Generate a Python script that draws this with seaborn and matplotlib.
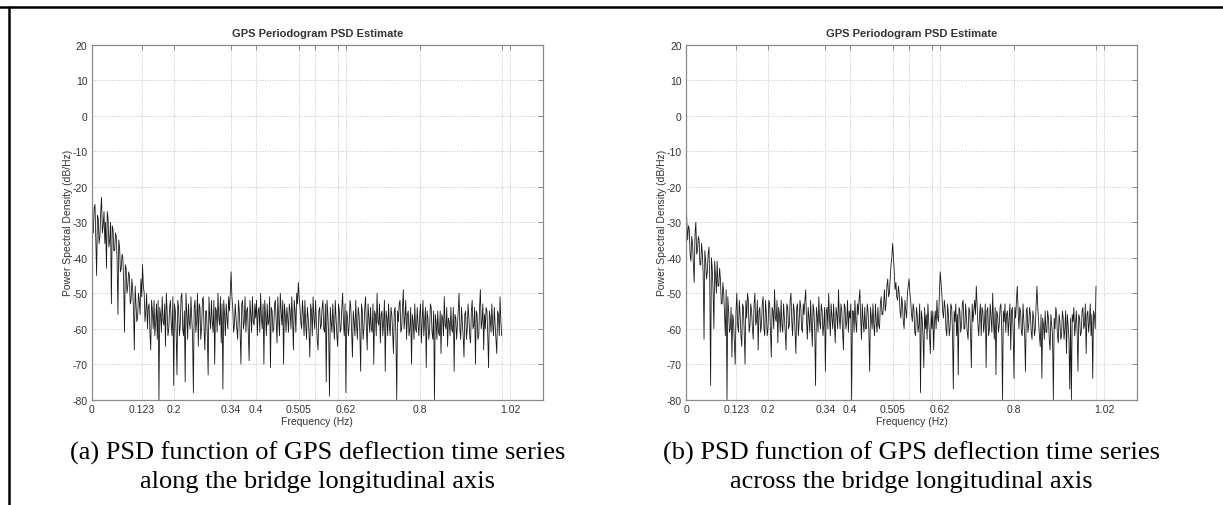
import numpy as np
import pandas as pd
import matplotlib
matplotlib.use("Agg")
import matplotlib.pyplot as plt
from matplotlib.lines import Line2D
import seaborn as sns

# PSD values (dB/Hz), one every 0.002 Hz from 0 to 1.0 Hz
psd_along = [
    -27, -33, -33, -26, -25, -35, -45, -28, -29, -36, -34, -27, -23, -33, -31, -27, -36, -30, -43, -27,
    -29, -37, -35, -30, -53, -31, -32, -38, -38, -33, -34, -41, -56, -35, -37, -44, -43, -39, -40, -47,
    -61, -42, -43, -50, -48, -44, -45, -53, -52, -46, -49, -55, -66, -48, -53, -58, -57, -50, -52, -56,
    -46, -51, -42, -48, -50, -58, -55, -50, -60, -54, -53, -61, -66, -52, -55, -60, -52, -62, -58, -53,
    -63, -52, -80, -54, -56, -61, -51, -58, -59, -53, -65, -50, -55, -62, -60, -54, -52, -59, -62, -51,
    -76, -53, -55, -61, -73, -52, -54, -62, -59, -51, -50, -60, -62, -55, -75, -50, -56, -63, -53, -58,
    -60, -51, -57, -62, -78, -54, -52, -61, -58, -50, -65, -53, -54, -63, -60, -52, -51, -60, -66, -55,
    -55, -62, -73, -51, -57, -60, -52, -58, -61, -52, -70, -54, -55, -61, -50, -57, -59, -51, -64, -53,
    -77, -52, -56, -62, -53, -57, -60, -51, -55, -50, -44, -51, -54, -61, -59, -53, -57, -60, -63, -52,
    -55, -61, -70, -53, -52, -60, -58, -51, -61, -55, -54, -62, -69, -52, -56, -61, -51, -58, -59, -53,
    -57, -52, -62, -55, -54, -61, -50, -57, -60, -53, -70, -52, -56, -62, -53, -59, -58, -51, -71, -54,
    -55, -61, -60, -53, -52, -58, -64, -51, -57, -62, -50, -55, -59, -52, -70, -53, -56, -61, -54, -57,
    -61, -53, -55, -60, -51, -57, -66, -52, -55, -61, -50, -53, -47, -51, -54, -58, -60, -52, -56, -62,
    -52, -59, -63, -54, -57, -61, -68, -53, -55, -62, -51, -57, -60, -52, -58, -63, -66, -55, -54, -60,
    -59, -54, -52, -60, -61, -53, -75, -52, -56, -62, -79, -54, -58, -61, -53, -59, -63, -52, -57, -62,
    -65, -53, -55, -61, -60, -54, -50, -58, -62, -53, -78, -55, -57, -62, -59, -52, -54, -61, -68, -55,
    -58, -62, -52, -59, -63, -54, -56, -61, -72, -53, -55, -63, -60, -54, -51, -60, -66, -53, -57, -61,
    -54, -60, -61, -53, -70, -55, -56, -62, -50, -58, -59, -53, -64, -56, -55, -62, -58, -52, -72, -55,
    -57, -62, -53, -59, -62, -54, -56, -61, -67, -55, -54, -62, -80, -55, -58, -53, -52, -61, -60, -54,
    -49, -60, -57, -52, -63, -56, -55, -62, -60, -54, -70, -56, -58, -63, -53, -60, -61, -54, -59, -62,
    -56, -53, -64, -58, -52, -62, -58, -54, -71, -55, -57, -63, -61, -53, -54, -61, -63, -55, -80, -56,
    -58, -63, -55, -61, -62, -55, -67, -56, -57, -62, -51, -59, -60, -54, -65, -57, -58, -62, -54, -60,
    -61, -54, -72, -56, -57, -63, -59, -55, -50, -60, -63, -54, -58, -62, -68, -56, -55, -63, -60, -53,
    -57, -62, -64, -55, -52, -60, -59, -54, -70, -55, -56, -63, -62, -54, -49, -60, -58, -53, -66, -56,
    -60, -54, -55, -62, -71, -55, -57, -61, -53, -59, -62, -54, -59, -63, -67, -55, -56, -62, -51, -58,
    -62,
]

psd_across = [
    -21, -30, -35, -31, -32, -39, -41, -34, -36, -42, -47, -33, -30, -39, -38, -34, -35, -42, -42, -36,
    -39, -45, -63, -38, -41, -46, -44, -39, -37, -47, -76, -40, -43, -49, -60, -41, -45, -50, -41, -48,
    -48, -43, -46, -53, -53, -47, -50, -56, -62, -49, -80, -51, -55, -61, -60, -54, -68, -56, -58, -64,
    -70, -55, -50, -59, -61, -52, -56, -62, -65, -53, -54, -61, -70, -52, -57, -50, -52, -61, -59, -53,
    -55, -60, -63, -53, -50, -59, -58, -52, -66, -55, -54, -61, -59, -53, -51, -60, -62, -52, -56, -62,
    -60, -52, -53, -61, -68, -54, -55, -60, -49, -57, -58, -52, -64, -54, -56, -61, -52, -59, -61, -53,
    -57, -61, -66, -53, -54, -60, -59, -52, -50, -58, -62, -53, -55, -61, -67, -54, -53, -62, -58, -52,
    -54, -60, -61, -53, -56, -52, -49, -58, -63, -54, -57, -61, -52, -59, -65, -53, -55, -61, -76, -54,
    -56, -61, -51, -58, -60, -53, -55, -62, -59, -54, -72, -55, -54, -60, -50, -57, -62, -53, -57, -60,
    -53, -59, -64, -54, -56, -60, -49, -57, -60, -53, -55, -61, -66, -53, -54, -60, -58, -52, -61, -55,
    -57, -53, -80, -55, -55, -61, -52, -58, -61, -53, -56, -52, -49, -57, -63, -53, -58, -61, -54, -60,
    -60, -53, -55, -61, -72, -54, -57, -60, -53, -59, -62, -53, -58, -61, -54, -59, -60, -53, -51, -56,
    -56, -53, -49, -55, -53, -48, -46, -51, -50, -46, -42, -40, -36, -40, -44, -49, -47, -51, -52, -48,
    -50, -55, -57, -51, -53, -58, -60, -52, -55, -57, -50, -48, -46, -50, -52, -56, -58, -53, -55, -61,
    -62, -54, -56, -61, -59, -53, -78, -55, -57, -62, -71, -54, -60, -56, -63, -53, -58, -62, -67, -55,
    -60, -55, -66, -58, -55, -60, -52, -57, -58, -50, -44, -47, -50, -55, -57, -52, -54, -60, -62, -53,
    -56, -62, -60, -53, -54, -61, -77, -55, -58, -53, -62, -56, -73, -54, -55, -61, -59, -53, -52, -60,
    -60, -53, -57, -61, -63, -54, -55, -61, -71, -53, -58, -55, -52, -56, -48, -53, -59, -62, -56, -53,
    -62, -54, -55, -61, -58, -53, -71, -55, -54, -62, -60, -53, -57, -61, -50, -58, -63, -54, -73, -55,
    -56, -61, -59, -54, -53, -60, -80, -55, -58, -53, -61, -56, -55, -62, -57, -53, -66, -55, -54, -61,
    -74, -54, -57, -52, -48, -55, -60, -54, -55, -61, -62, -53, -58, -62, -72, -55, -54, -61, -59, -54,
    -56, -61, -63, -55, -57, -62, -60, -53, -48, -54, -58, -62, -65, -56, -74, -57, -59, -63, -55, -61,
    -61, -55, -57, -63, -66, -56, -59, -62, -80, -57, -60, -54, -56, -62, -64, -56, -58, -63, -62, -55,
    -57, -63, -60, -55, -67, -56, -59, -63, -77, -57, -80, -56, -58, -54, -62, -59, -55, -61, -72, -56,
    -57, -62, -61, -55, -54, -60, -59, -53, -67, -56, -55, -61, -58, -53, -62, -56, -74, -55, -56, -60,
    -48,
]

grid_positions = [0.123, 0.2, 0.34, 0.4, 0.505, 0.545, 0.6, 0.62, 0.8, 1.0, 1.02]
tick_labels = ["0.123", "0.2", "0.34", "0.4", "0.505", "", "", "0.62", "0.8", "", "1.02"]
y_ticks = list(range(-80, 21, 10))

captions = [
    ("(a) PSD function of GPS deflection time series", "along the bridge longitudinal axis"),
    ("(b) PSD function of GPS deflection time series", "across the bridge longitudinal axis"),
]

sns.set_theme(style="white")
plt.rcParams["font.family"] = ["Liberation Sans", "DejaVu Sans"]
plt.rcParams["axes.unicode_minus"] = False

W, H = 1223, 506
fig = plt.figure(figsize=(W / 100, H / 100), dpi=100)
fig.patch.set_facecolor("white")

axes_px = [(91.7, 45.7), (686.0, 45.7)]
ax_w, ax_h = 451.0, 355.0

for (left, top), psd, cap in zip(axes_px, [psd_along, psd_across], captions):
    ax = fig.add_axes([left / W, (H - top - ax_h) / H, ax_w / W, ax_h / H])
    df = pd.DataFrame({"freq": np.linspace(0, 1.0, len(psd)), "psd": psd})
    sns.lineplot(data=df, x="freq", y="psd", ax=ax, color="#1a1a1a",
                 linewidth=0.6, estimator=None, errorbar=None)

    ax.set_xlim(0, 1.1)
    ax.set_ylim(-80, 20)
    ax.set_xticks([0] + grid_positions)
    ax.set_xticklabels(["0"] + tick_labels)
    ax.set_yticks(y_ticks)
    ax.grid(True, color="#c4c4c4", linestyle=(0, (1, 1.5)), linewidth=0.7)
    ax.tick_params(direction="in", length=3.5, width=0.7, color="#888888",
                   labelsize=7.5, labelcolor="#333333", top=True, right=True,
                   pad=3)
    for s in ax.spines.values():
        s.set_color("#8a8a8a")
        s.set_linewidth(0.9)

    ax.set_title("GPS Periodogram PSD Estimate", fontsize=8, fontweight="bold",
                 color="#333333", pad=6)
    ax.set_xlabel("Frequency (Hz)", fontsize=7.5, color="#333333")
    ax.set_ylabel("Power Spectral Density (dB/Hz)", fontsize=7.5, color="#333333")
    ax.xaxis.set_label_coords(0.5, -0.045)
    ax.yaxis.set_label_coords(-0.042, 0.5)

    cx = (left + ax_w / 2) / W
    fig.text(cx, 1 - 453 / H, cap[0], ha="center", va="center", fontsize=19,
             family=["Liberation Serif", "DejaVu Serif"], color="black")
    fig.text(cx, 1 - 482 / H, cap[1], ha="center", va="center", fontsize=19,
             family=["Liberation Serif", "DejaVu Serif"], color="black")

# outer frame: top and left rules only
fig.add_artist(Line2D([0, 1], [1 - 8 / H, 1 - 8 / H], color="black", linewidth=1.8))
fig.add_artist(Line2D([9 / W, 9 / W], [0, 1 - 8 / H], color="black", linewidth=1.8))

fig.savefig("out.png", dpi=100)
